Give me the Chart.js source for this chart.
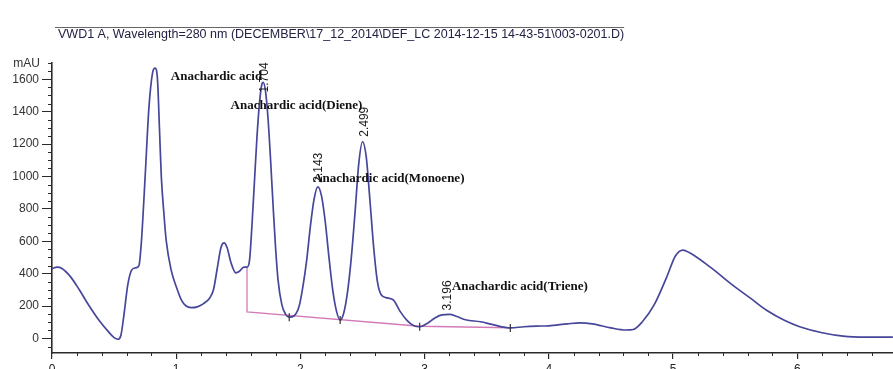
<!DOCTYPE html>
<html>
<head>
<meta charset="utf-8">
<script src="https://cdn.jsdelivr.net/npm/chart.js@4.4.1/dist/chart.umd.min.js"></script>
<style>
html,body{margin:0;padding:0;background:#fff;overflow:hidden;}
#wrap{width:893px;height:380px;}
</style>
</head>
<body>
<div id="wrap"><canvas id="c" width="893" height="380"></canvas></div>
<script>
// ---- Data ----
const titleText = 'VWD1 A, Wavelength=280 nm (DECEMBER\\17_12_2014\\DEF_LC 2014-12-15 14-43-51\\003-0201.D)';
const yUnit = 'mAU';

// retention time (min)
const rt = [0.00,0.04,0.08,0.15,0.22,0.30,0.38,0.45,0.50,0.53,0.555,0.58,0.61,0.64,0.67,0.70,0.72,0.75,0.78,0.81,0.83,0.85,0.865,0.88,0.90,0.92,0.96,1.00,1.04,1.08,1.12,1.17,1.22,1.27,1.30,1.33,1.36,1.385,1.41,1.44,1.48,1.51,1.545,1.57,1.59,1.61,1.63,1.65,1.67,1.69,1.70,1.72,1.74,1.76,1.78,1.80,1.82,1.85,1.88,1.91,1.95,1.99,2.02,2.05,2.08,2.11,2.14,2.17,2.20,2.23,2.26,2.29,2.32,2.35,2.38,2.41,2.44,2.47,2.50,2.53,2.56,2.59,2.62,2.65,2.70,2.75,2.80,2.86,2.91,2.96,3.02,3.08,3.14,3.20,3.26,3.33,3.45,3.55,3.69,3.80,3.90,4.00,4.15,4.25,4.35,4.50,4.62,4.68,4.75,4.85,4.95,5.02,5.08,5.13,5.30,5.48,5.62,5.75,5.90,6.02,6.20,6.37,6.55,6.77];
// absorbance (mAU)
const mau = [430,440,432,380,300,200,110,45,5,-5,20,150,330,420,435,450,600,1000,1420,1640,1668,1590,1300,1000,780,600,420,320,240,200,190,195,215,250,300,430,560,590,560,470,405,415,440,440,480,700,970,1240,1450,1570,1580,1520,1350,1100,820,560,360,210,150,131,140,200,320,480,690,860,936,880,720,500,300,170,113,160,290,500,780,1080,1214,1120,850,560,350,270,250,236,170,110,80,72,92,125,145,148,135,115,103,85,65,72,76,78,90,96,90,65,52,55,100,210,380,510,545,530,440,329,250,175,110,72,35,14,8,8];

// integration baseline
const baseRt  = [1.57, 1.57, 2.96, 3.69];
const baseMau = [440, 164, 75, 66];

// peak boundary marks
const boundRt = [1.91, 2.32, 2.96, 3.69];

// labelled peaks
const peakRt    = [1.704, 2.143, 2.499, 3.196];
const peakLabel = ['1.704', '2.143', '2.499', '3.196'];
const peakName  = ['Anachardic acid', 'Anachardic acid(Monoene)', 'Anachardic acid(Diene)', 'Anachardic acid(Triene)'];

// axis ticks
const xTicks = [0,1,2,3,4,5,6];
const yTicks = [0,200,400,600,800,1000,1200,1400,1600];

// ---- styling of labels (pixel offsets relative to the peak apex) ----
const labelStyle = [
  {numDx: 1.5, numDy: 10, nameDx: -1.5, nameDy: -6, nameAlign: 'right'},
  {numDx: 1,   numDy: -4, nameDx: -5,   nameDy: -8, nameAlign: 'left'},
  {numDx: 2.5, numDy: -5, nameDx: 0,    nameDy: -36, nameAlign: 'right'},
  {numDx: -1,  numDy: -4, nameDx: 3,    nameDy: -28, nameAlign: 'left'}
];

function interp(x){
  for(let i=0;i<rt.length-1;i++){
    if(x>=rt[i] && x<=rt[i+1]){
      const t=(x-rt[i])/(rt[i+1]-rt[i]);
      return mau[i]+t*(mau[i+1]-mau[i]);
    }
  }
  return mau[mau.length-1];
}
function apex(x){
  let best=-1e9;
  for(let i=0;i<rt.length;i++){ if(Math.abs(rt[i]-x)<=0.03 && mau[i]>best) best=mau[i]; }
  return best;
}

const curve = rt.map((x,i)=>({x:x,y:mau[i]}));
const baseline = baseRt.map((x,i)=>({x:x,y:baseMau[i]}));
const bounds = boundRt.map(x=>({x:x,y:interp(x)}));

const AX = '#2a2a2a';

const decor = {
  id:'decor',
  afterDraw(chart){
    const ctx=chart.ctx, xs=chart.scales.x, ys=chart.scales.y, ca=chart.chartArea;
    ctx.save();
    ctx.font='12.5px "Liberation Sans", Arial, sans-serif';
    ctx.fillStyle='#222244';
    ctx.textBaseline='middle';
    ctx.textAlign='left';
    ctx.fillText(titleText, 58, 35);
    const tw=ctx.measureText(titleText).width;
    ctx.strokeStyle='#666';
    ctx.lineWidth=1;
    ctx.beginPath(); ctx.moveTo(55,27.5); ctx.lineTo(58+tw,27.5); ctx.stroke();
    ctx.font='12px "Liberation Sans", Arial, sans-serif';
    ctx.fillStyle='#333';
    ctx.textAlign='right';
    ctx.fillText(yUnit, 40, ca.top+1);
    ctx.strokeStyle=AX; ctx.lineWidth=1;
    ctx.beginPath();
    for(let v=-50; v<=1700; v+=50){
      if(v%200===0) continue;
      const py=Math.round(ys.getPixelForValue(v))+0.5;
      ctx.moveTo(ca.left-4,py); ctx.lineTo(ca.left,py);
    }
    for(let k=1;k<=33;k++){
      const v=k*0.2;
      if(Math.abs(v-Math.round(v))<1e-6) continue;
      if(v>xs.max) break;
      const px=Math.round(xs.getPixelForValue(v))+0.5;
      ctx.moveTo(px,ca.bottom); ctx.lineTo(px,ca.bottom+3);
    }
    ctx.stroke();
    for(let i=0;i<peakRt.length;i++){
      const s=labelStyle[i];
      const px=xs.getPixelForValue(peakRt[i]);
      const py=ys.getPixelForValue(apex(peakRt[i]));
      ctx.save();
      ctx.translate(px+s.numDx, py+s.numDy);
      ctx.rotate(-Math.PI/2);
      ctx.font='12px "Liberation Sans", Arial, sans-serif';
      ctx.fillStyle='#1a1a1a';
      ctx.textAlign='left'; ctx.textBaseline='middle';
      ctx.fillText(peakLabel[i],0,0);
      ctx.restore();
      ctx.font='bold 13px "Liberation Serif", "Times New Roman", serif';
      ctx.fillStyle='#111';
      ctx.textAlign=s.nameAlign; ctx.textBaseline='middle';
      ctx.fillText(peakName[i], px+s.nameDx, py+s.nameDy);
    }
    ctx.restore();
  }
};

new Chart(document.getElementById('c'), {
  type:'line',
  data:{
    datasets:[
      {data:baseline, borderColor:'#d27ab9', borderWidth:1.3, pointRadius:0, tension:0, order:2},
      {data:curve, borderColor:'#46469a', borderWidth:1.7, pointRadius:0, cubicInterpolationMode:'monotone', order:1},
      {type:'scatter', data:bounds, pointStyle:'line', rotation:90, radius:4, borderColor:'#333', borderWidth:1.2, showLine:false, order:0}
    ]
  },
  options:{
    responsive:false,
    animation:false,
    events:[],
    layout:{autoPadding:false, padding:{top:63,left:0,right:0,bottom:0}},
    plugins:{legend:{display:false}, tooltip:{enabled:false}, title:{display:false}},
    scales:{
      x:{
        type:'linear', min:0, max:6.771,
        afterBuildTicks(s){ s.ticks = xTicks.map(v=>({value:v})); },
        afterFit(s){ s.height = 27; s.paddingRight = 0; s.paddingLeft = 0; },
        grid:{display:true, drawOnChartArea:false, drawTicks:true, tickLength:6, color:AX, lineWidth:1.2},
        border:{display:true, color:AX, width:1.6},
        ticks:{color:'#222', padding:3, maxRotation:0, autoSkip:false, callback:v=>String(v), font:{family:'"Liberation Sans", Arial, sans-serif', size:12}}
      },
      y:{
        type:'linear', min:-90, max:1700,
        afterBuildTicks(s){ s.ticks = yTicks.map(v=>({value:v})); },
        afterFit(s){ s.width = 52; s.paddingTop = 0; s.paddingBottom = 0; },
        grid:{display:true, drawOnChartArea:false, drawTicks:true, tickLength:10, color:AX, lineWidth:1},
        border:{display:true, color:AX, width:1.6},
        ticks:{color:'#333', padding:3, autoSkip:false, callback:v=>String(v), font:{family:'"Liberation Sans", Arial, sans-serif', size:12}}
      }
    }
  },
  plugins:[decor]
});
</script>
</body>
</html>
